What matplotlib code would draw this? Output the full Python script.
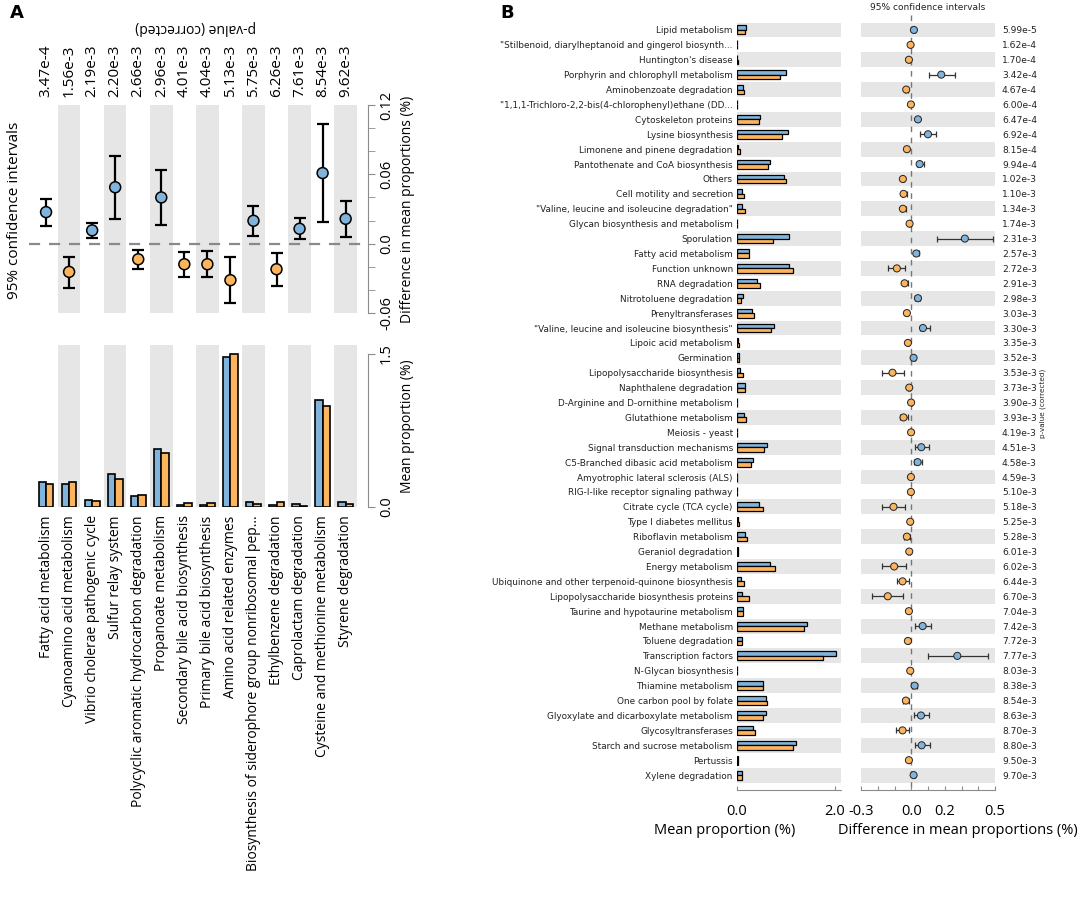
import matplotlib
matplotlib.use("Agg")
import matplotlib.pyplot as plt
import numpy as np

W, H = 1084, 910
BLUE = "#80B4DC"
ORANGE = "#FDB45E"
BAND = "#E6E6E6"
AXC = "#8C8C8C"
FA = "Open Sans"

# ---- panel A data ----
cats_a = ["Fatty acid metabolism", "Cyanoamino acid metabolism", "Vibrio cholerae pathogenic cycle",
          "Sulfur relay system", "Polycyclic aromatic hydrocarbon degradation", "Propanoate metabolism",
          "Secondary bile acid biosynthesis", "Primary bile acid biosynthesis", "Amino acid related enzymes",
          "Biosynthesis of siderophore group nonribosomal pep...", "Ethylbenzene degradation",
          "Caprolactam degradation", "Cysteine and methionine metabolism", "Styrene degradation"]
pval_a = ["3.47e-4", "1.56e-3", "2.19e-3", "2.20e-3", "2.66e-3", "2.96e-3", "4.01e-3",
          "4.04e-3", "5.13e-3", "5.75e-3", "6.26e-3", "7.61e-3", "8.54e-3", "9.62e-3"]
diff_a = [0.0273, -0.0244, 0.0115, 0.0488, -0.0135, 0.040, -0.0178, -0.0178, -0.0316, 0.0198,
          -0.0221, 0.0129, 0.0611, 0.0215]
lo_a = [0.015, -0.038, 0.0049, 0.021, -0.0215, 0.0164, -0.0287, -0.0287, -0.0516, 0.0066,
        -0.0367, 0.004, 0.0187, 0.0057]
hi_a = [0.039, -0.0115, 0.0178, 0.076, -0.0057, 0.064, -0.0072, -0.0066, -0.0115, 0.033,
        -0.0077, 0.0221, 0.1039, 0.0367]
mean1_a = [0.245, 0.222, 0.072, 0.323, 0.104, 0.571, 0.016, 0.016, 1.47, 0.049, 0.02, 0.029, 1.05, 0.049]
mean2_a = [0.222, 0.245, 0.059, 0.27, 0.117, 0.528, 0.036, 0.036, 1.5, 0.033, 0.046, 0.013, 0.988, 0.029]

# ---- panel B data ----
cats_b = ["Lipid metabolism", "\"Stilbenoid, diarylheptanoid and gingerol biosynth...",
          "Huntington's disease", "Porphyrin and chlorophyll metabolism", "Aminobenzoate degradation",
          "\"1,1,1-Trichloro-2,2-bis(4-chlorophenyl)ethane (DD...", "Cytoskeleton proteins",
          "Lysine biosynthesis", "Limonene and pinene degradation", "Pantothenate and CoA biosynthesis",
          "Others", "Cell motility and secretion", "\"Valine, leucine and isoleucine degradation\"",
          "Glycan biosynthesis and metabolism", "Sporulation", "Fatty acid metabolism",
          "Function unknown", "RNA degradation", "Nitrotoluene degradation", "Prenyltransferases",
          "\"Valine, leucine and isoleucine biosynthesis\"", "Lipoic acid metabolism", "Germination",
          "Lipopolysaccharide biosynthesis", "Naphthalene degradation",
          "D-Arginine and D-ornithine metabolism", "Glutathione metabolism", "Meiosis - yeast",
          "Signal transduction mechanisms", "C5-Branched dibasic acid metabolism",
          "Amyotrophic lateral sclerosis (ALS)", "RIG-I-like receptor signaling pathway",
          "Citrate cycle (TCA cycle)", "Type I diabetes mellitus", "Riboflavin metabolism",
          "Geraniol degradation", "Energy metabolism",
          "Ubiquinone and other terpenoid-quinone biosynthesis",
          "Lipopolysaccharide biosynthesis proteins", "Taurine and hypotaurine metabolism",
          "Methane metabolism", "Toluene degradation", "Transcription factors",
          "N-Glycan biosynthesis", "Thiamine metabolism", "One carbon pool by folate",
          "Glyoxylate and dicarboxylate metabolism", "Glycosyltransferases",
          "Starch and sucrose metabolism", "Pertussis", "Xylene degradation"]
pval_b = ["5.99e-5", "1.62e-4", "1.70e-4", "3.42e-4", "4.67e-4", "6.00e-4", "6.47e-4", "6.92e-4",
          "8.15e-4", "9.94e-4", "1.02e-3", "1.10e-3", "1.34e-3", "1.74e-3", "2.31e-3", "2.57e-3",
          "2.72e-3", "2.91e-3", "2.98e-3", "3.03e-3", "3.30e-3", "3.35e-3", "3.52e-3", "3.53e-3",
          "3.73e-3", "3.90e-3", "3.93e-3", "4.19e-3", "4.51e-3", "4.58e-3", "4.59e-3", "5.10e-3",
          "5.18e-3", "5.25e-3", "5.28e-3", "6.01e-3", "6.02e-3", "6.44e-3", "6.70e-3", "7.04e-3",
          "7.42e-3", "7.72e-3", "7.77e-3", "8.03e-3", "8.38e-3", "8.54e-3", "8.63e-3", "8.70e-3",
          "8.80e-3", "9.50e-3", "9.70e-3"]
mean1_b = [0.18, 0.005, 0.01, 0.99, 0.12, 0.005, 0.47, 1.03, 0.03, 0.68,
           0.96, 0.10, 0.10, 0.01, 1.06, 0.25, 1.06, 0.40, 0.12, 0.30,
           0.75, 0.02, 0.05, 0.07, 0.17, 0.01, 0.14, 0.01, 0.61, 0.32,
           0.01, 0.01, 0.45, 0.03, 0.17, 0.02, 0.68, 0.08, 0.10, 0.12,
           1.43, 0.10, 2.02, 0.01, 0.53, 0.60, 0.60, 0.32, 1.21, 0.02,
           0.10]
mean2_b = [0.16, 0.008, 0.02, 0.87, 0.15, 0.008, 0.44, 0.92, 0.06, 0.64,
           1.00, 0.15, 0.17, 0.01, 0.73, 0.24, 1.14, 0.46, 0.08, 0.34,
           0.70, 0.04, 0.04, 0.13, 0.17, 0.01, 0.18, 0.01, 0.55, 0.29,
           0.01, 0.01, 0.53, 0.04, 0.20, 0.02, 0.77, 0.14, 0.25, 0.12,
           1.37, 0.10, 1.75, 0.01, 0.53, 0.62, 0.53, 0.37, 1.14, 0.02,
           0.10]
diff_b = [0.016, -0.004, -0.014, 0.179, -0.03, -0.002, 0.04, 0.10, -0.026, 0.05,
          -0.05, -0.046, -0.05, -0.01, 0.32, 0.03, -0.086, -0.04, 0.04, -0.026,
          0.07, -0.02, 0.014, -0.112, -0.012, -0.001, -0.046, -0.001, 0.06, 0.038,
          -0.002, -0.002, -0.106, -0.006, -0.026, -0.012, -0.102, -0.052, -0.14, -0.014,
          0.068, -0.02, 0.275, -0.006, 0.02, -0.032, 0.058, -0.052, 0.062, -0.014,
          0.014]
lo_b = [0.008, -0.008, -0.02, 0.104, -0.038, -0.006, 0.032, 0.05, -0.034, 0.034,
        -0.058, -0.056, -0.062, -0.016, 0.155, 0.016, -0.137, -0.05, 0.025, -0.034,
        0.05, -0.026, 0.008, -0.177, -0.018, -0.004, -0.066, -0.004, 0.024, 0.014,
        -0.006, -0.006, -0.173, -0.01, -0.042, -0.018, -0.173, -0.086, -0.233, -0.02,
        0.024, -0.028, 0.098, -0.01, 0.006, -0.052, 0.018, -0.092, 0.02, -0.02,
        0.008]
hi_b = [0.024, 0.0, -0.008, 0.261, -0.022, 0.002, 0.048, 0.15, -0.018, 0.074,
        -0.042, -0.026, -0.03, -0.004, 0.49, 0.048, -0.036, -0.022, 0.055, -0.018,
        0.114, -0.014, 0.02, -0.046, -0.006, 0.002, -0.02, 0.002, 0.104, 0.064,
        0.002, 0.002, -0.04, -0.002, -0.01, -0.006, -0.032, -0.016, -0.05, -0.008,
        0.118, -0.012, 0.456, -0.002, 0.034, -0.012, 0.104, -0.012, 0.11, -0.008,
        0.02]


def box(x0, y0, x1, y1):
    # pixel box (top-left origin) -> figure fraction rect
    return [x0 / W, 1 - y1 / H, (x1 - x0) / W, (y1 - y0) / H]


fig = plt.figure(figsize=(W / 100, H / 100), dpi=100)

# =============== panel A ===============
xa = np.arange(len(cats_a))
xlim_a = (-0.74, 13.97)

ax1 = fig.add_axes(box(29, 105, 368, 313))
ax1.set_xlim(*xlim_a)
ax1.set_ylim(-0.06, 0.12)
for i in xa[1::2]:
    ax1.axvspan(i - 0.49, i + 0.49, color=BAND, lw=0, zorder=0)
ax1.axhline(0, color="#8a8a8a", ls=(0, (5, 4)), lw=1.6, zorder=1)
d = np.array(diff_a)
err = [d - np.array(lo_a), np.array(hi_a) - d]
ax1.errorbar(xa, d, yerr=err, fmt="none", ecolor="black", elinewidth=1.6, capsize=4,
             capthick=1.6, zorder=2)
ax1.scatter(xa, d, s=62, c=[BLUE if v > 0 else ORANGE for v in d], edgecolors="black",
            linewidths=1.1, zorder=3)
for s in ["top", "left", "bottom"]:
    ax1.spines[s].set_visible(False)
ax1.spines["right"].set_color(AXC)
ax1.spines["right"].set_bounds(-0.06, 0.12)
ax1.yaxis.tick_right()
ax1.yaxis.set_label_position("right")
ax1.set_yticks([-0.06, 0.0, 0.06, 0.12])
ax1.set_yticklabels(["-0.06", "0.0", "0.06", "0.12"], rotation=90, va="center", family=FA, fontsize=10.5)
ax1.set_yticks(np.arange(-0.06, 0.121, 0.02), minor=True)
ax1.tick_params(axis="y", which="both", length=5, color=AXC, pad=3)
ax1.set_ylabel("Difference in mean proportions (%)", family=FA, fontsize=10, labelpad=4)
ax1.set_xticks(xa)
ax1.set_xticklabels(pval_a, rotation=90, family=FA, fontsize=11, va="bottom")
ax1.tick_params(axis="x", length=0, labelbottom=False, labeltop=True, pad=6)

ax2 = fig.add_axes(box(29, 345, 368, 507))
ax2.set_xlim(*xlim_a)
ax2.set_ylim(0, 1.585)
for i in xa[1::2]:
    ax2.axvspan(i - 0.49, i + 0.49, color=BAND, lw=0, zorder=0)
ax2.bar(xa - 0.16, mean1_a, width=0.32, color=BLUE, edgecolor="black", lw=1.2, zorder=2)
ax2.bar(xa + 0.16, mean2_a, width=0.32, color=ORANGE, edgecolor="black", lw=1.2, zorder=2)
for s in ["top", "left", "bottom"]:
    ax2.spines[s].set_visible(False)
ax2.spines["right"].set_color(AXC)
ax2.spines["right"].set_bounds(0, 1.5)
ax2.yaxis.tick_right()
ax2.yaxis.set_label_position("right")
ax2.set_yticks([0.0, 1.5])
ax2.set_yticklabels(["0.0", "1.5"], rotation=90, va="center", family=FA, fontsize=10.5)
ax2.tick_params(axis="y", length=5, color=AXC, pad=3)
ax2.set_ylabel("Mean proportion (%)", family=FA, fontsize=10, labelpad=4)
ax2.set_xticks(xa)
ax2.set_xticklabels(cats_a, rotation=90, family=FA, fontsize=10, va="top")
ax2.tick_params(axis="x", length=0, pad=6)

fig.text(15 / W, 1 - 210 / H, "95% confidence intervals", rotation=90, ha="center", va="center",
         family=FA, fontsize=11)
fig.text(196 / W, 1 - 28 / H, "p-value (corrected)", rotation=180, ha="center", va="center",
         family=FA, fontsize=10)
fig.text(10 / W, 1 - 13 / H, "A", fontsize=13, fontweight="bold", va="center")
fig.text(500 / W, 1 - 13 / H, "B", fontsize=13, fontweight="bold", va="center")

# =============== panel B ===============
yb = np.arange(len(cats_b))
ylim_b = (51.0, -0.5)

bx1 = fig.add_axes(box(737, 22.5, 841, 790))
bx1.set_ylim(*ylim_b)
bx1.set_xlim(0, 2.12)
for i in yb[0::2]:
    bx1.axhspan(i - 0.5, i + 0.5, color=BAND, lw=0, zorder=0)
bx1.barh(yb - 0.15, mean1_b, height=0.3, color=BLUE, edgecolor="black", lw=0.9, zorder=2)
bx1.barh(yb + 0.15, mean2_b, height=0.3, color=ORANGE, edgecolor="black", lw=0.9, zorder=2)
bx1.set_yticks(yb)
bx1.set_yticklabels(cats_b, fontsize=6.4, color="#222222")
bx1.tick_params(axis="y", length=0, pad=3)
bx1.set_xticks([0, 2])
bx1.set_xticklabels(["0.0", "2.0"], family=FA, fontsize=10.5)
bx1.tick_params(axis="x", direction="in", length=3, color=AXC, pad=10)

bx2 = fig.add_axes(box(861, 22.5, 995, 790))
bx2.set_ylim(*ylim_b)
bx2.set_xlim(-0.3, 0.5)
for i in yb[0::2]:
    bx2.axhspan(i - 0.5, i + 0.5, color=BAND, lw=0, zorder=0)
bx2.plot([0, 0], [-1.0, 51.0], color="#777777", ls=(0, (4, 4)), lw=1.0, clip_on=False, zorder=1)
db = np.array(diff_b)
errb = [db - np.array(lo_b), np.array(hi_b) - db]
bx2.errorbar(db, yb, xerr=errb, fmt="none", ecolor="#333333", elinewidth=0.9, capsize=2.5,
             capthick=0.9, zorder=2)
bx2.scatter(db, yb, s=26, c=[BLUE if v > 0 else ORANGE for v in db], edgecolors="#222222",
            linewidths=0.7, zorder=3)
bx2.yaxis.tick_right()
bx2.set_yticks(yb)
bx2.set_yticklabels(pval_b, fontsize=6.6, color="#222222")
bx2.tick_params(axis="y", length=0, pad=5)
bx2.set_xticks(np.arange(-0.3, 0.51, 0.1))
bx2.set_xticklabels(["-0.3", "", "", "0.0", "", "0.2", "", "", "0.5"], family=FA, fontsize=10.5)
bx2.tick_params(axis="x", direction="in", length=3, color=AXC, pad=10)

for ax in (bx1, bx2):
    for s in ["top", "left", "right"]:
        ax.spines[s].set_visible(False)
    ax.spines["bottom"].set_color(AXC)

fig.text(725 / W, 1 - 831 / H, "Mean proportion (%)", ha="center", va="center", family=FA, fontsize=10.5)
fig.text(958 / W, 1 - 831 / H, "Difference in mean proportions (%)", ha="center", va="center",
         family=FA, fontsize=10.5)
fig.text(928 / W, 1 - 7 / H, "95% confidence intervals", ha="center", va="center", fontsize=6.5,
         color="#222222")
fig.text(1043 / W, 1 - 403 / H, "p-value (corrected)", rotation=90, ha="center", va="center",
         fontsize=5.2, color="#222222")

fig.savefig("out.png", dpi=100)
